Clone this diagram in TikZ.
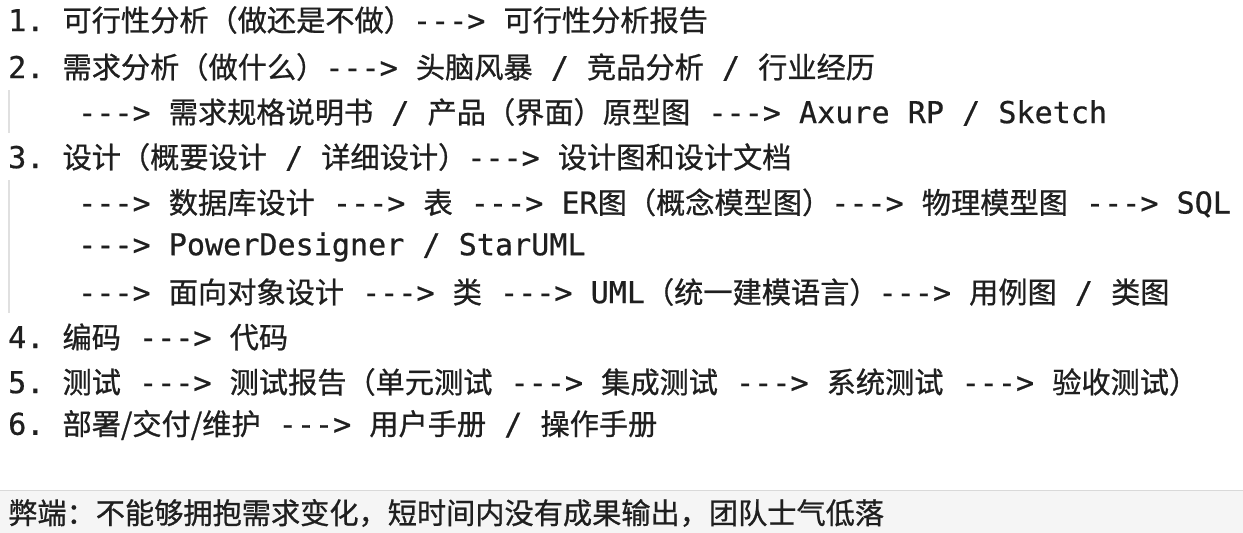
\documentclass[tikz,border=0pt]{standalone}
\usepackage{fontspec}
\setmonofont{DejaVu Sans Mono}[FakeBold=0.6]
\newfontfamily\cjk{Noto Sans CJK SC}[FakeBold=0.8,Scale=0.97]
\newcommand\zh[1]{{\cjk #1}}
\begin{document}
\begin{tikzpicture}[x=1pt,y=1pt,
  ln/.style={anchor=west,inner sep=0pt,font=\fontsize{30.1}{34}\selectfont\ttfamily,text=black!88},
  bar/.style={draw=black!12,line width=1.5pt}]
\useasboundingbox (0,0) rectangle (1243,-533);
\fill[white] (0,0) rectangle (1243,-533);
\fill[black!4] (0,-490) rectangle (1243,-533);
\draw[black!15,line width=1pt] (0,-490) -- (1243,-490);
\draw[bar] (9,-90) -- (9,-133);
\draw[bar] (9,-180) -- (9,-313);
\node[ln] (l1) at (8,-20) {1. \zh{可行性分析（做还是不做）}---> \zh{可行性分析报告}};
\node[ln] (l2) at (8,-67) {2. \zh{需求分析（做什么）}---> \zh{头脑风暴} / \zh{竞品分析} / \zh{行业经历}};
\node[ln] (l2a) at (78,-112) {---> \zh{需求规格说明书} / \zh{产品（界面）原型图} ---> Axure RP / Sketch};
\node[ln] (l3) at (8,-157) {3. \zh{设计（概要设计} / \zh{详细设计）}---> \zh{设计图和设计文档}};
\node[ln] (l3a) at (78,-203) {---> \zh{数据库设计} ---> \zh{表} ---> ER\zh{图（概念模型图）}---> \zh{物理模型图} ---> SQL};
\node[ln] (l3b) at (78,-247) {---> PowerDesigner / StarUML};
\node[ln] (l3c) at (78,-292) {---> \zh{面向对象设计} ---> \zh{类} ---> UML\zh{（统一建模语言）}---> \zh{用例图} / \zh{类图}};
\node[ln] (l4) at (8,-337) {4. \zh{编码} ---> \zh{代码}};
\node[ln] (l5) at (8,-382) {5. \zh{测试} ---> \zh{测试报告（单元测试} ---> \zh{集成测试} ---> \zh{系统测试} ---> \zh{验收测试）}};
\node[ln] (l6) at (8,-425) {6. \zh{部署/交付/维护} ---> \zh{用户手册} / \zh{操作手册}};
\node[ln] (bad) at (8,-513) {\zh{弊端：不能够拥抱需求变化，短时间内没有成果输出，团队士气低落}};
\end{tikzpicture}
\end{document}
